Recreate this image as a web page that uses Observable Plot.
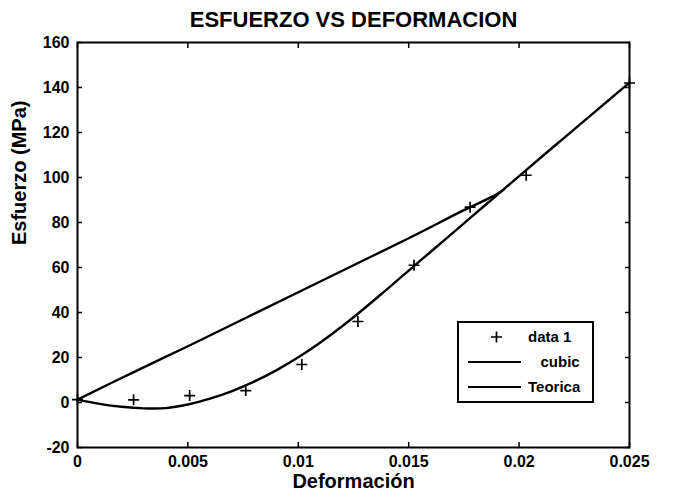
<!DOCTYPE html>
<html>
<head>
<meta charset="utf-8">
<script src="https://cdn.jsdelivr.net/npm/d3@7"></script>
<script src="https://cdn.jsdelivr.net/npm/@observablehq/plot@0.6"></script>
<style>
  html, body { margin: 0; padding: 0; background: #fff; }
</style>
</head>
<body>
<div id="chart"></div>
<script>
// ---- data ----
const titleText = "ESFUERZO VS DEFORMACION";
const xLabel = "Deformación";
const yLabel = "Esfuerzo (MPa)";
const xTicks = [0, 0.005, 0.01, 0.015, 0.02, 0.025];
const yTicks = [-20, 0, 20, 40, 60, 80, 100, 120, 140, 160];

// measured data ("data 1")
const dataX = [0, 0.00254, 0.00508, 0.00762, 0.01016, 0.0127, 0.01524, 0.01778, 0.02032, 0.025];
const dataY = [1.3, 1.2, 3.1, 5.3, 16.9, 36, 61, 86.8, 101, 142];

// cubic fit curve
const cubicX = [0, 0.001, 0.002, 0.003, 0.004, 0.005, 0.006, 0.007, 0.008, 0.009, 0.010, 0.011, 0.012, 0.013, 0.014, 0.015, 0.016, 0.017, 0.018, 0.019, 0.020, 0.021, 0.022, 0.023, 0.024, 0.025];
const cubicY = [1.3, -0.6, -1.9, -2.6, -2.5, -0.9, 1.7, 5.1, 9.3, 14.3, 20.1, 26.7, 34, 41.9, 50.2, 58.6, 67, 75.4, 83.8, 92.2, 100.6, 109, 117.3, 125.6, 133.9, 142.2];

// theoretical curve
const teoX = [0, 0.0025, 0.005, 0.0075, 0.01, 0.0125, 0.015, 0.0175, 0.019, 0.0193];
const teoY = [1.3, 13.3, 25, 37, 49, 61, 73, 85.5, 92.6, 94.7];

const legendLabels = ["data 1", "   cubic", "Teorica"];

// ---- tables ----
const dataPts = dataX.map((x, i) => ({x, y: dataY[i]}));
const cubic = cubicX.map((x, i) => ({x, y: cubicY[i]}));
const teo = teoX.map((x, i) => ({x, y: teoY[i]}));

const plusSymbol = {
  draw(ctx, size) {
    const r = Math.sqrt(size / Math.PI);
    ctx.moveTo(-r, 0); ctx.lineTo(r, 0);
    ctx.moveTo(0, -r); ctx.lineTo(0, r);
  }
};

const font = "'Liberation Sans', Arial, sans-serif";

const chart = Plot.plot({
  width: 686,
  height: 498,
  marginTop: 42,
  marginBottom: 51,
  marginLeft: 77,
  marginRight: 57,
  style: {fontFamily: font, fontWeight: "bold", fontSize: "16px", color: "black", background: "white"},
  x: {domain: [0, 0.025]},
  y: {domain: [-20, 160]},
  marks: [
    Plot.line(cubic, {x: "x", y: "y", stroke: "black", strokeWidth: 2.4, curve: "catmull-rom"}),
    Plot.line(teo, {x: "x", y: "y", stroke: "black", strokeWidth: 2.4, curve: "catmull-rom"}),
    Plot.dot(dataPts, {x: "x", y: "y", symbol: plusSymbol, r: 5.5, fill: "none", stroke: "black", strokeWidth: 1.7}),
    Plot.axisX(xTicks, {anchor: "bottom", tickSize: -5, tickPadding: 13, strokeWidth: 1.5, tickFormat: d => String(d), label: null, fontSize: 16}),
    Plot.axisX(xTicks, {anchor: "top", tickSize: -5, strokeWidth: 1.5, text: null, label: null}),
    Plot.axisY(yTicks, {anchor: "left", tickSize: -5, tickPadding: 13, strokeWidth: 1.5, tickFormat: d => String(d), label: null, fontSize: 16}),
    Plot.axisY(yTicks, {anchor: "right", tickSize: -5, strokeWidth: 1.5, text: null, label: null}),
    Plot.frame({stroke: "black", strokeWidth: 2}),
    Plot.text([xLabel], {frameAnchor: "bottom", dy: 40, fontSize: 20, fontWeight: "bold", fill: "black"}),
    Plot.text([yLabel], {frameAnchor: "left", dx: -58, rotate: -90, fontSize: 20, fontWeight: "bold", fill: "black"}),
    Plot.text([titleText], {frameAnchor: "top", dy: -31, fontSize: 22, fontWeight: "bold", fill: "black"})
  ]
});

document.getElementById("chart").appendChild(chart);

// ---- legend ----
const svg = d3.select(chart);
const lg = svg.append("g").attr("font-family", font).attr("font-weight", "bold").attr("font-size", 15).attr("text-anchor", "start");
lg.append("rect").attr("x", 458).attr("y", 322).attr("width", 135).attr("height", 80)
  .attr("fill", "white").attr("stroke", "black").attr("stroke-width", 2);
const rowY = [337, 362, 387];
lg.append("path").attr("d", `M491,${rowY[0]}h11M496.5,${rowY[0]-5.5}v11`).attr("stroke", "black").attr("stroke-width", 1.7);
lg.append("line").attr("x1", 468).attr("x2", 521).attr("y1", rowY[1]).attr("y2", rowY[1]).attr("stroke", "black").attr("stroke-width", 2.2);
lg.append("line").attr("x1", 468).attr("x2", 521).attr("y1", rowY[2]).attr("y2", rowY[2]).attr("stroke", "black").attr("stroke-width", 2.2);
legendLabels.forEach((t, i) => {
  lg.append("text").attr("x", 528).attr("y", rowY[i]).attr("dy", "0.35em")
    .attr("fill", "black").style("white-space", "pre").text(t);
});
</script>
</body>
</html>
